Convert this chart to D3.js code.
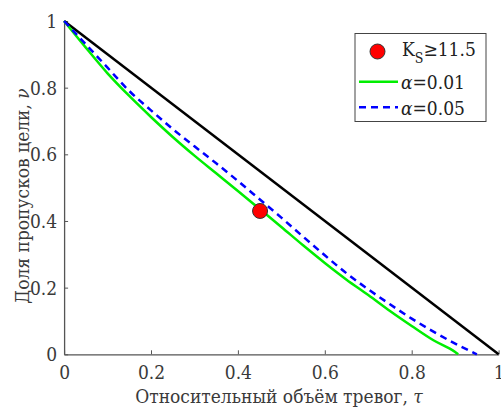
<!DOCTYPE html>
<html><head><meta charset="utf-8">
<script src="https://cdn.jsdelivr.net/npm/d3@7"></script>
<style>
html,body{margin:0;padding:0;background:#fff;}
</style></head>
<body><svg id="chart" width="501" height="408"></svg>
<script>
// Data
const tauGreen = [0,0.05,0.1,0.15,0.2,0.25,0.3,0.35,0.4,0.45,0.5,0.55,0.6,0.65,0.7,0.75,0.8,0.85,0.9,0.907];
const nuGreen  = [1,0.92,0.843,0.775,0.712,0.652,0.596,0.543,0.49,0.436,0.382,0.327,0.274,0.224,0.178,0.13,0.085,0.042,0.007,0];
const tauBlue  = [0,0.05,0.1,0.15,0.2,0.25,0.3,0.35,0.4,0.45,0.5,0.55,0.6,0.65,0.7,0.75,0.8,0.85,0.9,0.95];
const nuBlue   = [1,0.93,0.86,0.79,0.732,0.676,0.624,0.573,0.52,0.465,0.41,0.353,0.297,0.243,0.195,0.15,0.107,0.068,0.032,0];
const tauBlack = [0,1];
const nuBlack  = [1,0];
const pointTau = [0.451];
const pointNu  = [0.43];
const ticks = [0,0.2,0.4,0.6,0.8,1];
const tickLabels = ["0","0.2","0.4","0.6","0.8","1"];

const FONT = "'DejaVu Serif Condensed','DejaVu Serif',serif";
const FS = 19;
const svg = d3.select("#chart").style("font-family",FONT);
const x = d3.scaleLinear().domain([0,1]).range([64.1,498.6]);
const y = d3.scaleLinear().domain([0,1]).range([354.3,21]);
const axisColor = "#555";
const textColor = "#3a3a3a";

// axes
const xAxis = svg.append("g").attr("transform","translate(0,"+y(0)+")")
  .call(d3.axisBottom(x).tickValues(ticks).tickFormat((d,i)=>tickLabels[i]).tickSizeInner(-4).tickSizeOuter(0).tickPadding(11));
const yAxis = svg.append("g").attr("transform","translate("+x(0)+",0)")
  .call(d3.axisLeft(y).tickValues(ticks).tickFormat((d,i)=>tickLabels[i]).tickSizeInner(-4).tickSizeOuter(0).tickPadding(7));
[xAxis,yAxis].forEach(a=>{
  a.attr("font-family",null);
  a.select(".domain").attr("stroke",axisColor).attr("stroke-width",1.3);
  a.selectAll(".tick line").attr("stroke",axisColor).attr("stroke-width",1);
  a.selectAll(".tick text").attr("fill",textColor).attr("font-size",FS).style("font-family",FONT);
});
xAxis.selectAll(".tick text").attr("dy","0.71em");
yAxis.selectAll(".tick text").attr("dy","0.35em");

// lines
const line = d3.line().x(d=>x(d[0])).y(d=>y(d[1]));
svg.append("path").datum(tauBlack.map((t,i)=>[t,nuBlack[i]]))
  .attr("d",line).attr("fill","none").attr("stroke","#000").attr("stroke-width",2.5);
svg.append("path").datum(tauGreen.map((t,i)=>[t,nuGreen[i]]))
  .attr("d",d3.line().curve(d3.curveMonotoneX).x(d=>x(d[0])).y(d=>y(d[1])))
  .attr("fill","none").attr("stroke","#00ee00").attr("stroke-width",2.5);
svg.append("path").datum(tauBlue.map((t,i)=>[t,nuBlue[i]]))
  .attr("d",d3.line().curve(d3.curveMonotoneX).x(d=>x(d[0])).y(d=>y(d[1])))
  .attr("fill","none").attr("stroke","#0000ff").attr("stroke-width",2.5).attr("stroke-dasharray","7,5");
svg.selectAll("circle.pt").data(pointTau.map((t,i)=>[t,pointNu[i]])).enter().append("circle")
  .attr("class","pt").attr("cx",d=>x(d[0])).attr("cy",d=>y(d[1])).attr("r",7.5)
  .attr("fill","#ff0000").attr("stroke","#333").attr("stroke-width",1);

// axis labels
svg.append("text").attr("x",279).attr("y",403).attr("text-anchor","middle")
  .attr("font-size",FS).attr("fill",textColor)
  .html('Относительный объём тревог, <tspan font-style="italic">τ</tspan>');
svg.append("text").attr("transform","translate(29,196) rotate(-90)").attr("text-anchor","middle")
  .attr("font-size",FS).attr("fill",textColor)
  .html('Доля пропусков цели, <tspan font-style="italic">ν</tspan>');

// legend
const lg = svg.append("g");
lg.append("rect").attr("x",355).attr("y",33.5).attr("width",131).attr("height",88)
  .attr("fill","#fff").attr("stroke","#444").attr("stroke-width",1);
lg.append("circle").attr("cx",377.5).attr("cy",51.5).attr("r",7.5)
  .attr("fill","#ff0000").attr("stroke","#333").attr("stroke-width",1);
lg.append("text").attr("x",402).attr("y",56).attr("font-size",FS).attr("fill","#222")
  .html('K<tspan font-size="14" dy="7">S</tspan><tspan dy="-7">≥11.5</tspan>');
lg.append("line").attr("x1",359).attr("x2",398).attr("y1",81.7).attr("y2",81.7)
  .attr("stroke","#00ee00").attr("stroke-width",2.5);
lg.append("text").attr("x",401).attr("y",89).attr("font-size",FS).attr("fill","#222")
  .html('<tspan font-style="italic">α</tspan>=0.01');
lg.append("line").attr("x1",359).attr("x2",398).attr("y1",107.3).attr("y2",107.3)
  .attr("stroke","#0000ff").attr("stroke-width",2.5).attr("stroke-dasharray","7,5");
lg.append("text").attr("x",401).attr("y",115).attr("font-size",FS).attr("fill","#222")
  .html('<tspan font-style="italic">α</tspan>=0.05');
</script></body></html>
